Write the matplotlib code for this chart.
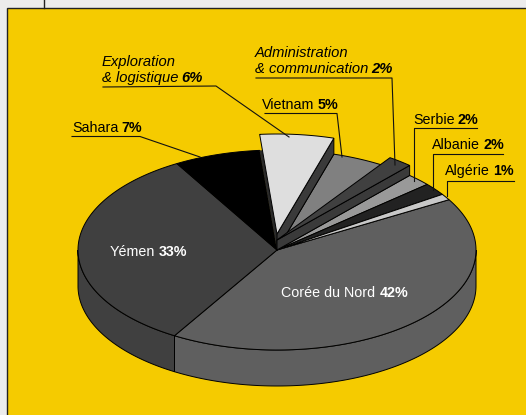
import numpy as np
import matplotlib
matplotlib.use('Agg')
import matplotlib.pyplot as plt
from matplotlib.patches import Polygon, Rectangle

plt.rcParams['font.family'] = ['Liberation Sans', 'DejaVu Sans']

# slices, clockwise from the right of the pie
regions = ['Corée du Nord', 'Yémen', 'Sahara', 'Exploration', 'Vietnam',
           'Administration', 'Serbie', 'Albanie', 'Algérie']
shares = [42, 33, 7, 6, 5, 2, 2, 2, 1]
colors = ['#5f5f5f', '#404040', '#000000', '#dedede', '#808080',
          '#404040', '#999999', '#222222', '#c8c8c8']
lifts = [0, 0, 0, 16, 0, 10, 0, 0, 0]

# pie geometry in pixels
cx, cy = 277, 250
rx, ry = 199, 100
depth = 36
start = 30.2


def ell(t, lift=0, drop=0):
    t = np.radians(t)
    return np.column_stack([cx + rx * np.cos(t), cy - ry * np.sin(t) - lift + drop])


def label(x, y, name, value, color='black', italic=False, gap=3, size=10.3):
    style = 'italic' if italic else 'normal'
    t = ax.text(x, y, name, fontsize=size, color=color, style=style, va='baseline', zorder=5)
    w = t.get_window_extent(fig.canvas.get_renderer()).width
    ax.text(x + w + gap, y, value, fontsize=size, color=color, style=style,
            weight='bold', va='baseline', zorder=5)


fig = plt.figure(figsize=(5.26, 4.15), dpi=100, facecolor='#ececec')
ax = fig.add_axes([0, 0, 1, 1])
ax.set_xlim(0, 526)
ax.set_ylim(415, 0)
ax.axis('off')

# yellow panel
ax.add_patch(Rectangle((6.5, 8.5), 530, 420, fc='#f5cb00', ec='#222222', lw=1))
ax.plot([44, 44], [0, 8], color='#222222', lw=1)

# angles of the slice limits
angles = [start]
for s in shares:
    angles.append(angles[-1] - s * 3.6)
# slices past the left of the pie wrap round
angles = [a + 360 if a < -180 else a for a in angles]

# outer wall of the pie
for i in range(len(shares)):
    a1 = min(angles[i], 0)
    a0 = max(angles[i + 1], -180) if angles[i + 1] < angles[i] else -180
    if a1 <= a0:
        continue
    t = np.linspace(a1, a0, 120)
    pts = np.vstack([ell(t), ell(t[::-1], drop=depth)])
    ax.add_patch(Polygon(pts, fc=colors[i], ec='black', lw=0.7, zorder=2))

# top faces, raised slices after the flat ones
flat = [i for i in range(len(shares)) if lifts[i] == 0]
raised = [i for i in range(len(shares)) if lifts[i] > 0]
for i in flat + raised:
    a0 = angles[i]
    a1 = angles[i + 1]
    if a1 > a0:
        a1 -= 360
    t = np.linspace(a0, a1, 120)
    if lifts[i] > 0:
        # footprint left under a raised slice
        foot = np.vstack([[[cx, cy]], ell(t)])
        ax.add_patch(Polygon(foot, fc='#2a2a2a', ec='none', zorder=3))
        # cut wall on the right side of a raised slice
        edge = ell(np.array([angles[i + 1]]))
        wall = [[cx, cy - lifts[i]], [edge[0, 0], edge[0, 1] - lifts[i]], [edge[0, 0], edge[0, 1]], [cx, cy]]
        ax.add_patch(Polygon(wall, fc='#3a3a3a', ec='black', lw=0.7, zorder=3))
    pts = np.vstack([[[cx, cy - lifts[i]]], ell(t, lift=lifts[i])])
    ax.add_patch(Polygon(pts, fc=colors[i], ec='black', lw=0.7, zorder=3))

# leader lines
leaders = [
    [(103, 87), (216, 86), (289, 137)],
    [(72, 136.5), (140, 136.5), (200, 157)],
    [(265, 113.5), (337, 113.5), (342, 157)],
    [(256, 78), (392, 78), (395, 165)],
    [(477, 128), (413.5, 128), (413.5, 181)],
    [(503, 154), (432.5, 154), (432.5, 190)],
    [(514, 181), (446.5, 181), (446.5, 196)],
]
for line in leaders:
    xs, ys = zip(*line)
    ax.plot(xs, ys, color='#111111', lw=0.8, zorder=4)

# labels
ax.text(102, 66, 'Exploration', fontsize=10.6, style='italic', va='baseline', zorder=5)
label(102, 82, '& logistique', '6%', italic=True, size=10.6)
ax.text(255, 57, 'Administration', fontsize=10.6, style='italic', va='baseline', zorder=5)
label(255, 73, '& communication', '2%', italic=True, size=10.6)
label(72, 132, 'Sahara', '7%')
label(262, 109, 'Vietnam', '5%')
label(413, 124, 'Serbie', '2%')
label(432, 149, 'Albanie', '2%')
label(445, 175, 'Algérie', '1%')
label(110, 256, 'Yémen', '33%', color='white')
label(281, 297, 'Corée du Nord', '42%', color='white', gap=5)

fig.savefig('out.png', dpi=100, facecolor=fig.get_facecolor())
